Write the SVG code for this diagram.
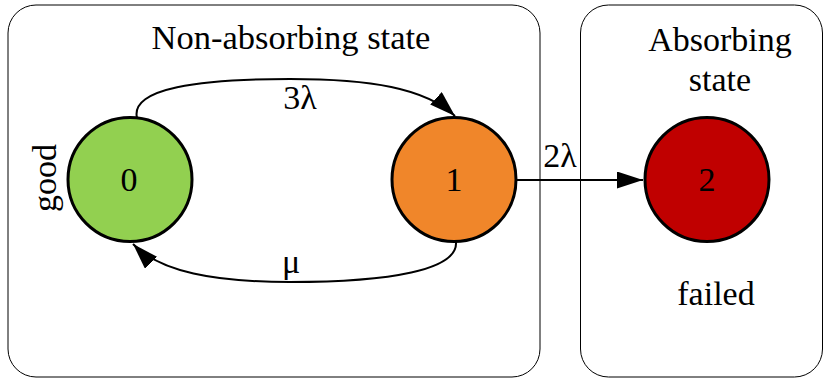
<svg xmlns="http://www.w3.org/2000/svg" width="827" height="380" viewBox="0 0 827 380" font-family="'Liberation Serif', 'DejaVu Serif', serif">
<style>
.lbl{font-family:'Liberation Serif','DejaVu Serif',serif;font-size:34px;text-anchor:middle;fill:#000}
.title{font-size:34.5px}
.box{fill:#fff;stroke:#000;stroke-width:1}
.node{stroke:#000;stroke-width:3}
.edge{fill:none;stroke:#000;stroke-width:2}
</style>
<defs>
<marker id="arr" viewBox="0 0 26 17" refX="26" refY="8.5" markerWidth="26" markerHeight="17" markerUnits="userSpaceOnUse" orient="auto">
<path d="M0,0 L26,8.5 L0,17 Z" fill="#000"/>
</marker>
</defs>
<g id="cluster-nonabsorbing">
<rect class="box" x="8" y="5" width="532" height="372" rx="28"/>
<text class="lbl title" x="291" y="49">Non-absorbing state</text>
</g>
<g id="cluster-absorbing">
<rect class="box" x="580.5" y="5" width="242" height="372" rx="28"/>
<text class="lbl" x="720" y="51">Absorbing</text>
<text class="lbl" x="720" y="91">state</text>
</g>
<g id="connectors">
<path class="edge" d="M137,118 C130,88 200,79 290,79 C370,79 425,88 455,116" marker-end="url(#arr)"/>
<text class="lbl" x="300" y="109">3λ</text>
<path class="edge" d="M456,242 C458,270 390,282 290,282 C215,282 160,272 133,244" marker-end="url(#arr)"/>
<text class="lbl" x="291" y="273">μ</text>
<path class="edge" d="M517,180 L643,180" marker-end="url(#arr)"/>
<text class="lbl" x="560" y="167">2λ</text>
</g>
<g id="node-0">
<circle class="node" cx="130" cy="179.5" r="62" fill="#92d050"/>
<text class="lbl" x="129" y="191">0</text>
<text class="lbl" transform="translate(56,178) rotate(-90)" x="0" y="0">good</text>
</g>
<g id="node-1">
<circle class="node" cx="454" cy="179.5" r="62" fill="#f0862a"/>
<text class="lbl" x="454" y="191">1</text>
</g>
<g id="node-2">
<circle class="node" cx="707" cy="179.5" r="62" fill="#c00000"/>
<text class="lbl" x="707" y="191">2</text>
<text class="lbl" x="716" y="305">failed</text>
</g>
</svg>
